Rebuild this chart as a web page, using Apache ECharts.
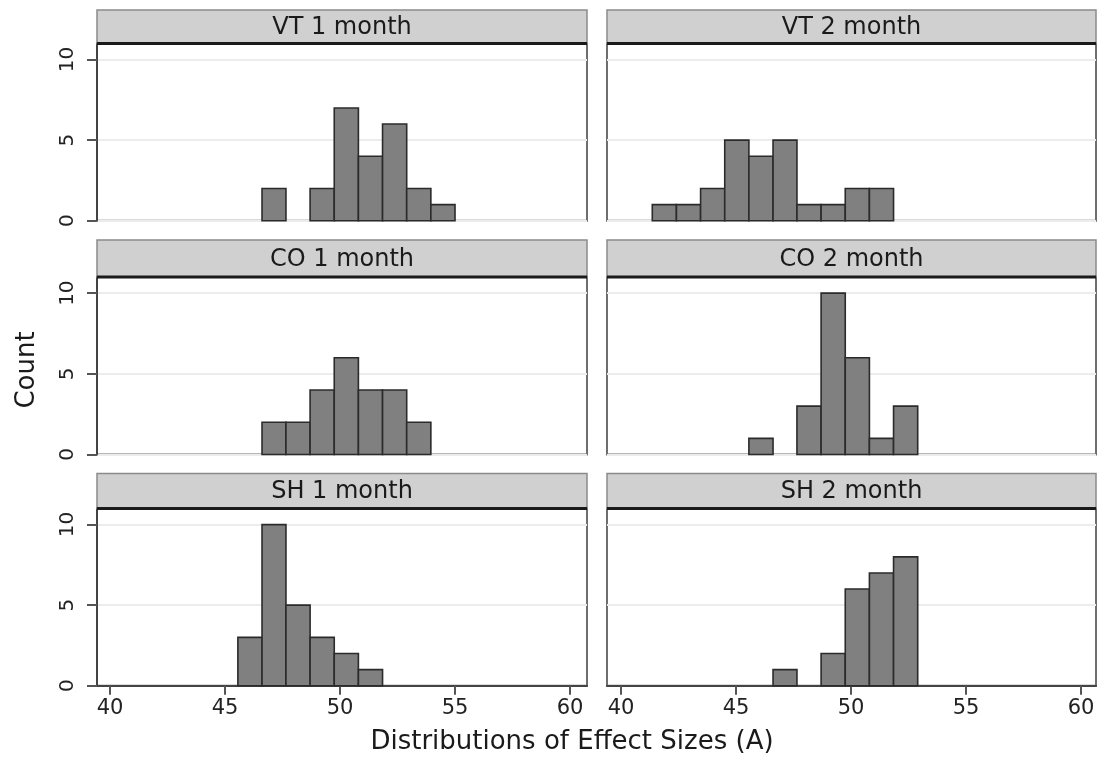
<!DOCTYPE html>
<html><head><meta charset="utf-8">
<script src="https://cdn.jsdelivr.net/npm/echarts@6/dist/echarts.min.js"></script>
<style>html,body{margin:0;padding:0;background:#fff}#c{width:1099px;height:768px}</style>
</head><body><div id="c"></div>
<script>
// ---- data ----
const binEdges = [41.36, 42.41, 43.46, 44.51, 45.56, 46.61, 47.65, 48.70, 49.75, 50.80, 51.85, 52.90, 53.95, 55.00];
const panelTitles = ['VT 1 month', 'VT 2 month', 'CO 1 month', 'CO 2 month', 'SH 1 month', 'SH 2 month'];
const countsVT1 = [0, 0, 0, 0, 0, 2, 0, 2, 7, 4, 6, 2, 1];
const countsVT2 = [1, 1, 2, 5, 4, 5, 1, 1, 2, 2, 0, 0, 0];
const countsCO1 = [0, 0, 0, 0, 0, 2, 2, 4, 6, 4, 4, 2, 0];
const countsCO2 = [0, 0, 0, 0, 1, 0, 3, 10, 6, 1, 3, 0, 0];
const countsSH1 = [0, 0, 0, 0, 3, 10, 5, 3, 2, 1, 0, 0, 0];
const countsSH2 = [0, 0, 0, 0, 0, 1, 0, 2, 6, 7, 8, 0, 0];
const xTicks = [40, 45, 50, 55, 60];
const yTicks = [0, 5, 10];
const xTitle = 'Distributions of Effect Sizes (A)';
const yTitle = 'Count';

const panelCounts = [countsVT1, countsVT2, countsCO1, countsCO2, countsSH1, countsSH2];

// ---- layout ----
const FONT = 'DejaVu Sans';
const cols = [
  { left: 97, width: 490, xmin: 39.435, xmax: 60.739 },
  { left: 607, width: 489, xmin: 39.391, xmax: 60.652 }
];
const rows = [
  { top: 43.5, height: 177.2, stripTop: 10 },
  { top: 277, height: 177.5, stripTop: 240 },
  { top: 508.5, height: 177.2, stripTop: 473.5 }
];

const grids = [], xAxes = [], yAxes = [], series = [], graphics = [];

panelCounts.forEach((counts, i) => {
  const r = Math.floor(i / 2), c = i % 2;
  const col = cols[c], row = rows[r];
  const isBottom = r === 2, isLeft = c === 0;
  grids.push({
    left: col.left, top: row.top, width: col.width, height: row.height,
    show: true, backgroundColor: '#fff', borderColor: '#6e6e6e', borderWidth: 2, containLabel: false
  });
  xAxes.push({
    type: 'value', gridIndex: i, min: col.xmin, max: col.xmax,
    axisLine: { show: isBottom, onZero: false, lineStyle: { color: '#444', width: 2 } },
    axisTick: { show: isBottom, customValues: xTicks, length: 9, lineStyle: { color: '#555', width: 2 } },
    axisLabel: { show: isBottom, customValues: xTicks, fontSize: 21, color: '#222', fontFamily: FONT, margin: 12 },
    splitLine: { show: false }
  });
  yAxes.push({
    type: 'value', gridIndex: i, min: 0, max: 11,
    axisLine: { show: isLeft, lineStyle: { color: '#444', width: 2 } },
    axisTick: { show: isLeft, customValues: yTicks, length: 10, lineStyle: { color: '#555', width: 2 } },
    axisLabel: { show: isLeft, customValues: yTicks, rotate: 90, fontSize: 20, color: '#222', fontFamily: FONT, margin: 19 },
    splitLine: { show: true, lineStyle: { color: '#ececec', width: 2 } }
  });
  const data = [];
  counts.forEach((v, k) => { if (v > 0) data.push([binEdges[k], binEdges[k + 1], v]); });
  series.push({
    type: 'custom', xAxisIndex: i, yAxisIndex: i, data: data,
    encode: { x: [0, 1], y: 2 },
    renderItem: function (params, api) {
      const p0 = api.coord([api.value(0), api.value(2)]);
      const p1 = api.coord([api.value(1), 0]);
      return {
        type: 'rect',
        shape: { x: p0[0], y: p0[1], width: p1[0] - p0[0], height: p1[1] - p0[1] },
        style: { fill: '#808080', stroke: '#2b2b2b', lineWidth: 1.6 }
      };
    }
  });
  // strip header
  graphics.push({
    type: 'rect', z: 10,
    shape: { x: col.left, y: row.stripTop, width: col.width, height: row.top - row.stripTop },
    style: { fill: '#d0d0d0', stroke: '#8a8a8a', lineWidth: 1.5 }
  });
  graphics.push({
    type: 'line', z: 11,
    shape: { x1: col.left, y1: row.top, x2: col.left + col.width, y2: row.top },
    style: { stroke: '#1a1a1a', lineWidth: 3 }
  });
  graphics.push({
    type: 'text', z: 12,
    style: {
      text: panelTitles[i], x: col.left + col.width / 2, y: (row.stripTop + row.top) / 2 + 1,
      align: 'center', verticalAlign: 'middle', font: '24px "' + FONT + '"', fill: '#1a1a1a'
    }
  });
});

graphics.push({
  type: 'text', z: 12,
  style: { text: xTitle, x: 572, y: 742, align: 'center', verticalAlign: 'middle', font: '26px "' + FONT + '"', fill: '#1a1a1a' }
});
graphics.push({
  type: 'text', z: 12, x: 27, y: 370, rotation: Math.PI / 2,
  style: { text: yTitle, x: 0, y: 0, align: 'center', verticalAlign: 'middle', font: '26px "' + FONT + '"', fill: '#1a1a1a' }
});

const chart = echarts.init(document.getElementById('c'), null, { renderer: 'canvas' });
chart.setOption({
  animation: false,
  backgroundColor: '#fff',
  grid: grids, xAxis: xAxes, yAxis: yAxes, series: series, graphic: graphics
});
</script></body></html>
